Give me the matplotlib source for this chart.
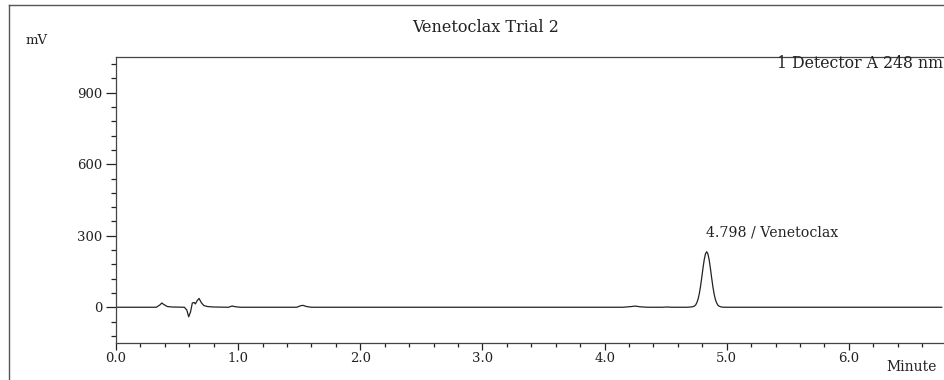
import matplotlib
matplotlib.use("Agg")
import matplotlib.pyplot as plt
from matplotlib.lines import Line2D
from matplotlib.ticker import MultipleLocator, FormatStrFormatter, FixedLocator

# chromatogram trace (minutes, mV)
time_min = [0.0, 0.33, 0.36, 0.375, 0.39, 0.42, 0.46, 0.56, 0.58, 0.595,
            0.61, 0.625, 0.64, 0.65, 0.665, 0.68, 0.70, 0.72, 0.75, 0.80,
            0.92, 0.95, 0.98, 1.02, 1.48, 1.51, 1.53, 1.56, 1.60, 4.15,
            4.22, 4.25, 4.29, 4.35, 4.47, 4.51, 4.55, 4.68, 4.70, 4.72,
            4.736, 4.746, 4.756, 4.766, 4.776, 4.786, 4.796, 4.806, 4.816, 4.826,
            4.836, 4.846, 4.856, 4.866, 4.876, 4.886, 4.896, 4.906, 4.916, 4.926,
            4.936, 4.956, 4.98, 6.76]
signal_mv = [0, 0, 10, 18, 12, 3, 1, 0, -12, -40,
             -20, 18, 20, 14, 28, 37, 18, 7, 3, 1,
             0, 5, 2, 0, 0, 6, 8, 3, 0, 0,
             3, 5, 2, 0, 0, 1, 0, 0, 1, 2,
             5, 10, 20, 35, 58, 89, 126, 165, 200, 224,
             233, 224, 200, 165, 126, 89, 58, 35, 20, 10,
             5, 1, 0, 0]

peak_time = 4.798
peak_name = "Venetoclax"
title = "Venetoclax Trial 2"
detector = "1 Detector A 248 nm"
x_major = [0.0, 1.0, 2.0, 3.0, 4.0, 5.0, 6.0]

FONT = "DejaVu Serif"
INK = "#222222"

fig = plt.figure(figsize=(9.45, 3.8), dpi=100)
W, H = 945.0, 380.0

# axes runs past the right edge of the picture, like the cropped original
ax = fig.add_axes([116 / W, 1 - 343 / H, 855 / W, (343 - 57) / H])
ax.plot(time_min, signal_mv, color=INK, lw=0.9)

ax.set_xlim(0, 7.0)
ax.set_ylim(-150, 1050)
ax.xaxis.set_major_locator(FixedLocator(x_major))
ax.xaxis.set_minor_locator(MultipleLocator(0.2))
ax.xaxis.set_major_formatter(FormatStrFormatter("%.1f"))
ax.yaxis.set_major_locator(MultipleLocator(300))
ax.yaxis.set_minor_locator(MultipleLocator(60))
ax.tick_params(which="major", direction="out", length=7.5, width=0.9, color=INK,
               labelsize=9.5, pad=2.5)
ax.tick_params(which="minor", direction="out", length=3.5, width=0.9, color=INK)
ax.tick_params(axis="x", which="major", length=5, pad=1.5)
ax.tick_params(axis="x", which="minor", length=3)
for lab in ax.get_xticklabels() + ax.get_yticklabels():
    lab.set_fontfamily(FONT)
    lab.set_color(INK)
for side in ["left", "bottom", "top", "right"]:
    ax.spines[side].set_color("#444444")
    ax.spines[side].set_linewidth(0.9)

# peak label, left aligned at the peak
ax.text(peak_time + 0.03, 312, "%.3f / %s" % (peak_time, peak_name),
        ha="left", va="center", fontsize=10.2, family=FONT, color=INK)

fig.text(486 / W, 1 - 27 / H, title, ha="center", va="center",
         fontsize=11.5, family=FONT, color=INK)
fig.text(37 / W, 1 - 40 / H, "mV", ha="center", va="center",
         fontsize=9.5, family=FONT, color=INK)
fig.text(943 / W, 1 - 64 / H, detector, ha="right", va="center",
         fontsize=11.3, family=FONT, color=INK)
fig.text(886 / W, 1 - 367 / H, "Minute", ha="left", va="center",
         fontsize=10, family=FONT, color=INK)

# outer frame of the original report
fig.add_artist(Line2D([9 / W, 9 / W], [0, 1 - 5 / H], transform=fig.transFigure,
                      color="#555555", lw=1.0))
fig.add_artist(Line2D([9 / W, 1], [1 - 5 / H, 1 - 5 / H], transform=fig.transFigure,
                      color="#555555", lw=1.0))

fig.savefig("out.png", dpi=100)
